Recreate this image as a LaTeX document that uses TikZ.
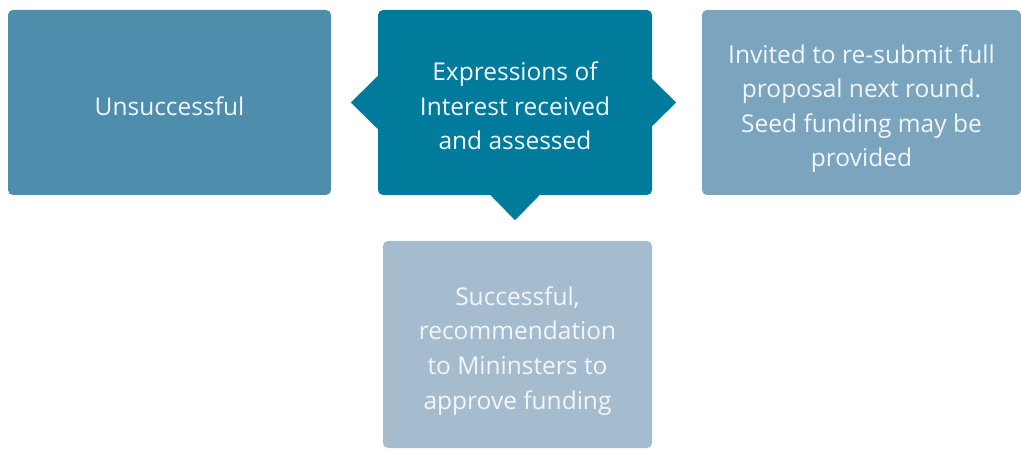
\documentclass[tikz,border=0pt]{standalone}
\usepackage{fontspec}
\setmainfont{Open Sans}
\usepackage{tikz}

\definecolor{unsucc}{HTML}{4F8DAD}
\definecolor{eoi}{HTML}{017B9B}
\definecolor{resub}{HTML}{7BA5BE}
\definecolor{succ}{HTML}{A5BCCF}
\definecolor{boxtext}{HTML}{F2F6F8}
% fixed first-line height and last-line depth
\newcommand\toph{\rule{0pt}{31.8pt}}
\newcommand\botd{\rule[-6.6pt]{0pt}{6.6pt}}

\begin{document}
\begin{tikzpicture}[x=1pt,y=-1pt,box/.style={rectangle,rounded corners=5pt,inner sep=0pt,text=boxtext,align=center,font=\fontsize{24.5}{34.6}\selectfont}]
\useasboundingbox (0,0) rectangle (1021,449);
\node[box] (U) [fill=unsucc, minimum width=323pt, minimum height=185pt] at (169.5,102.5) {\toph Unsuccessful\botd};
\node[box] (E) [fill=eoi, minimum width=274pt, minimum height=185pt] at (515,102.5) {\toph Expressions of\\Interest received\\and assessed\botd};
\node[box] (I) [fill=resub, minimum width=319pt, minimum height=185pt] at (861.5,102.5) {\toph Invited to re-submit full\\proposal next round.\\Seed funding may be\\provided\botd};
\node[box] (S) [fill=succ, minimum width=269pt, minimum height=207pt] at (517.5,344.5) {\toph Successful,\\recommendation\\to Mininsters to\\approve funding\botd};
% pointers of the middle box
\fill[eoi] (E.west) ++(0.5,-27) -- ++(-27.5,27) -- ++(27.5,27) -- cycle;
\fill[eoi] (E.east) ++(-0.5,-24) -- ++(24.5,24) -- ++(-24.5,24) -- cycle;
\fill[eoi] (E.south) ++(-25,-0.5) -- ++(25,25.5) -- ++(25,-25.5) -- cycle;
\end{tikzpicture}
\end{document}
